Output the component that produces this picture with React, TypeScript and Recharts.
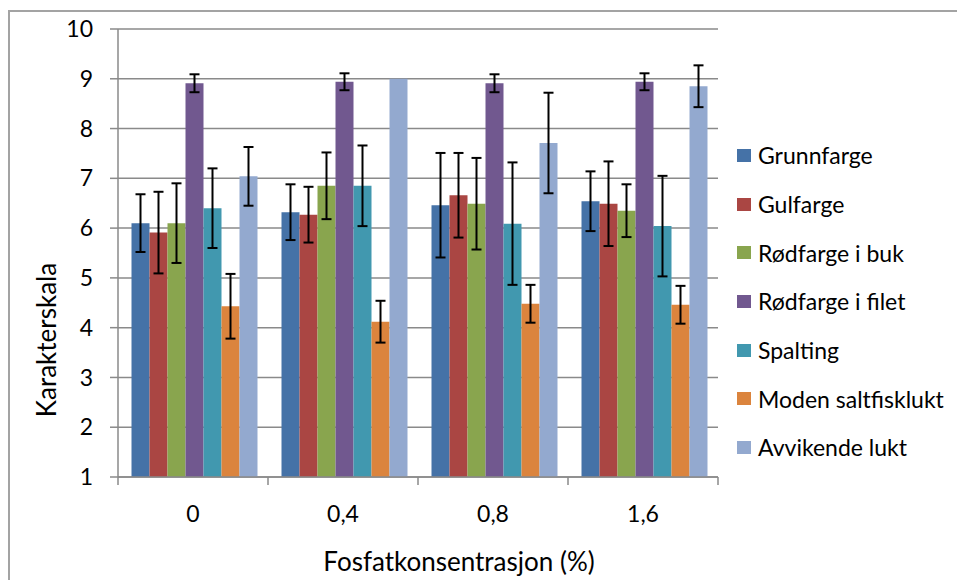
import React from 'react';
import { BarChart, Bar, XAxis, YAxis, CartesianGrid, ErrorBar, Legend, Label } from 'recharts';

const categories = ['0', '0,4', '0,8', '1,6'];

const grunnfarge = [6.1, 6.32, 6.46, 6.54];
const grunnfargeErr = [0.58, 0.56, 1.05, 0.6];
const gulfarge = [5.91, 6.27, 6.66, 6.49];
const gulfargeErr = [0.82, 0.56, 0.85, 0.85];
const rodBuk = [6.1, 6.85, 6.49, 6.35];
const rodBukErr = [0.8, 0.67, 0.92, 0.53];
const rodFilet = [8.91, 8.94, 8.91, 8.94];
const rodFiletErr = [0.18, 0.17, 0.18, 0.17];
const spalting = [6.4, 6.85, 6.09, 6.04];
const spaltingErr = [0.8, 0.81, 1.23, 1.01];
const moden = [4.43, 4.12, 4.48, 4.46];
const modenErr = [0.65, 0.42, 0.38, 0.38];
const avvikende = [7.04, 9.0, 7.71, 8.85];
const avvikendeErr = [0.59, 0, 1.01, 0.42];

const yTicks = [1, 2, 3, 4, 5, 6, 7, 8, 9, 10];

const SERIES = [
  { key: 'grunnfarge', name: 'Grunnfarge', color: '#4572a7', values: grunnfarge, errors: grunnfargeErr },
  { key: 'gulfarge', name: 'Gulfarge', color: '#aa4643', values: gulfarge, errors: gulfargeErr },
  { key: 'rodBuk', name: 'Rødfarge i buk', color: '#89a54e', values: rodBuk, errors: rodBukErr },
  { key: 'rodFilet', name: 'Rødfarge i filet', color: '#71588f', values: rodFilet, errors: rodFiletErr },
  { key: 'spalting', name: 'Spalting', color: '#4198af', values: spalting, errors: spaltingErr },
  { key: 'moden', name: 'Moden saltfisklukt', color: '#db843d', values: moden, errors: modenErr },
  { key: 'avvikende', name: 'Avvikende lukt', color: '#93a9cf', values: avvikende, errors: avvikendeErr },
];

const data = categories.map((c, i) => {
  const row: Record<string, string | number> = { konsentrasjon: c };
  SERIES.forEach(s => {
    row[s.key] = s.values[i];
    row[s.key + 'Err'] = s.errors[i];
  });
  return row;
});

const FONT = 'Lato, "Open Sans", sans-serif';
const GRID = '#8a8a8a';
const X_TICK_SIZE = 8;
const X_TICK_MARGIN = 21;

// Excel puts the x tick marks between the categories, not under them
function XTick({ x, y, payload, index, width, visibleTicksCount }: any) {
  const half = width / visibleTicksCount / 2;
  const axisY = y - X_TICK_SIZE - X_TICK_MARGIN;
  const last = index === visibleTicksCount - 1;
  return (
    <g>
      <line x1={x - half} y1={axisY} x2={x - half} y2={axisY + X_TICK_SIZE} stroke={GRID} strokeWidth={1.5} />
      {last && <line x1={x + half} y1={axisY} x2={x + half} y2={axisY + X_TICK_SIZE} stroke={GRID} strokeWidth={1.5} />}
      <text x={x} y={y} dy="0.71em" textAnchor="middle" fontSize={23} fill="#000" fontFamily={FONT}>
        {payload.value}
      </text>
    </g>
  );
}

function LegendList({ payload }: any) {
  // keep the series order, recharts sorts by name otherwise
  const order = (v: string) => SERIES.findIndex(s => s.name === v);
  const items = [...(payload || [])].sort((a: any, b: any) => order(a.value) - order(b.value));
  return (
    <div style={{ fontFamily: FONT }}>
      {items.map((p: any) => (
        <div key={p.value} style={{ height: 48.7, display: 'flex', alignItems: 'center', whiteSpace: 'nowrap' }}>
          <span style={{ display: 'inline-block', width: 14, height: 13, background: p.color, marginRight: 7 }} />
          <span style={{ fontSize: 23, color: '#000' }}>{p.value}</span>
        </div>
      ))}
    </div>
  );
}

function YTitle() {
  const x = 56;
  const y = 340;
  return (
    <text x={x} y={y} transform={`rotate(-90 ${x} ${y})`} textAnchor="middle" fontSize={26} fill="#000" fontFamily={FONT}>
      Karakterskala
    </text>
  );
}

export default function App() {
  return (
    <div style={{ position: 'absolute', left: 0, top: 0, width: 957, height: 580, overflow: 'hidden', background: '#fff', fontFamily: FONT }}>
      <div style={{ position: 'absolute', left: 8, top: 10, width: 1200, height: 1200, borderLeft: '2px solid #a3a3a3', borderTop: '2px solid #a3a3a3' }} />
      <div style={{ position: 'absolute', left: 0, top: 0 }}>
        <BarChart
          width={957}
          height={580}
          data={data}
          margin={{ top: 29, right: 239, bottom: 0, left: 0 }}
          barCategoryGap="9%"
          barGap={0}
        >
          <CartesianGrid vertical={false} stroke={GRID} strokeWidth={1.5} />
          <XAxis
            dataKey="konsentrasjon"
            height={103}
            tickLine={false}
            axisLine={{ stroke: GRID, strokeWidth: 1.5 }}
            tickSize={X_TICK_SIZE}
            tickMargin={X_TICK_MARGIN}
            tick={<XTick />}
            interval={0}
          >
            <Label value="Fosfatkonsentrasjon (%)" position="insideTop" offset={76} dx={41} fontSize={26} fill="#000" fontFamily={FONT} />
          </XAxis>
          <YAxis
            width={118}
            domain={[1, 10]}
            ticks={yTicks}
            interval={0}
            tickSize={8}
            tickMargin={17}
            tickLine={{ stroke: GRID, strokeWidth: 1.5 }}
            axisLine={{ stroke: GRID, strokeWidth: 1.5 }}
            tick={{ fill: '#000', fontSize: 23, fontFamily: FONT }}
          >
            <Label content={YTitle} />
          </YAxis>
          <Legend
            layout="vertical"
            align="center"
            verticalAlign="middle"
            wrapperStyle={{ left: 737, top: 131, width: 230 }}
            content={LegendList}
          />
          {SERIES.map(s => (
            <Bar key={s.key} dataKey={s.key} name={s.name} fill={s.color} isAnimationActive={false}>
              <ErrorBar dataKey={s.key + 'Err'} width={5} stroke="#000" strokeWidth={2} direction="y" />
            </Bar>
          ))}
        </BarChart>
      </div>
    </div>
  );
}
